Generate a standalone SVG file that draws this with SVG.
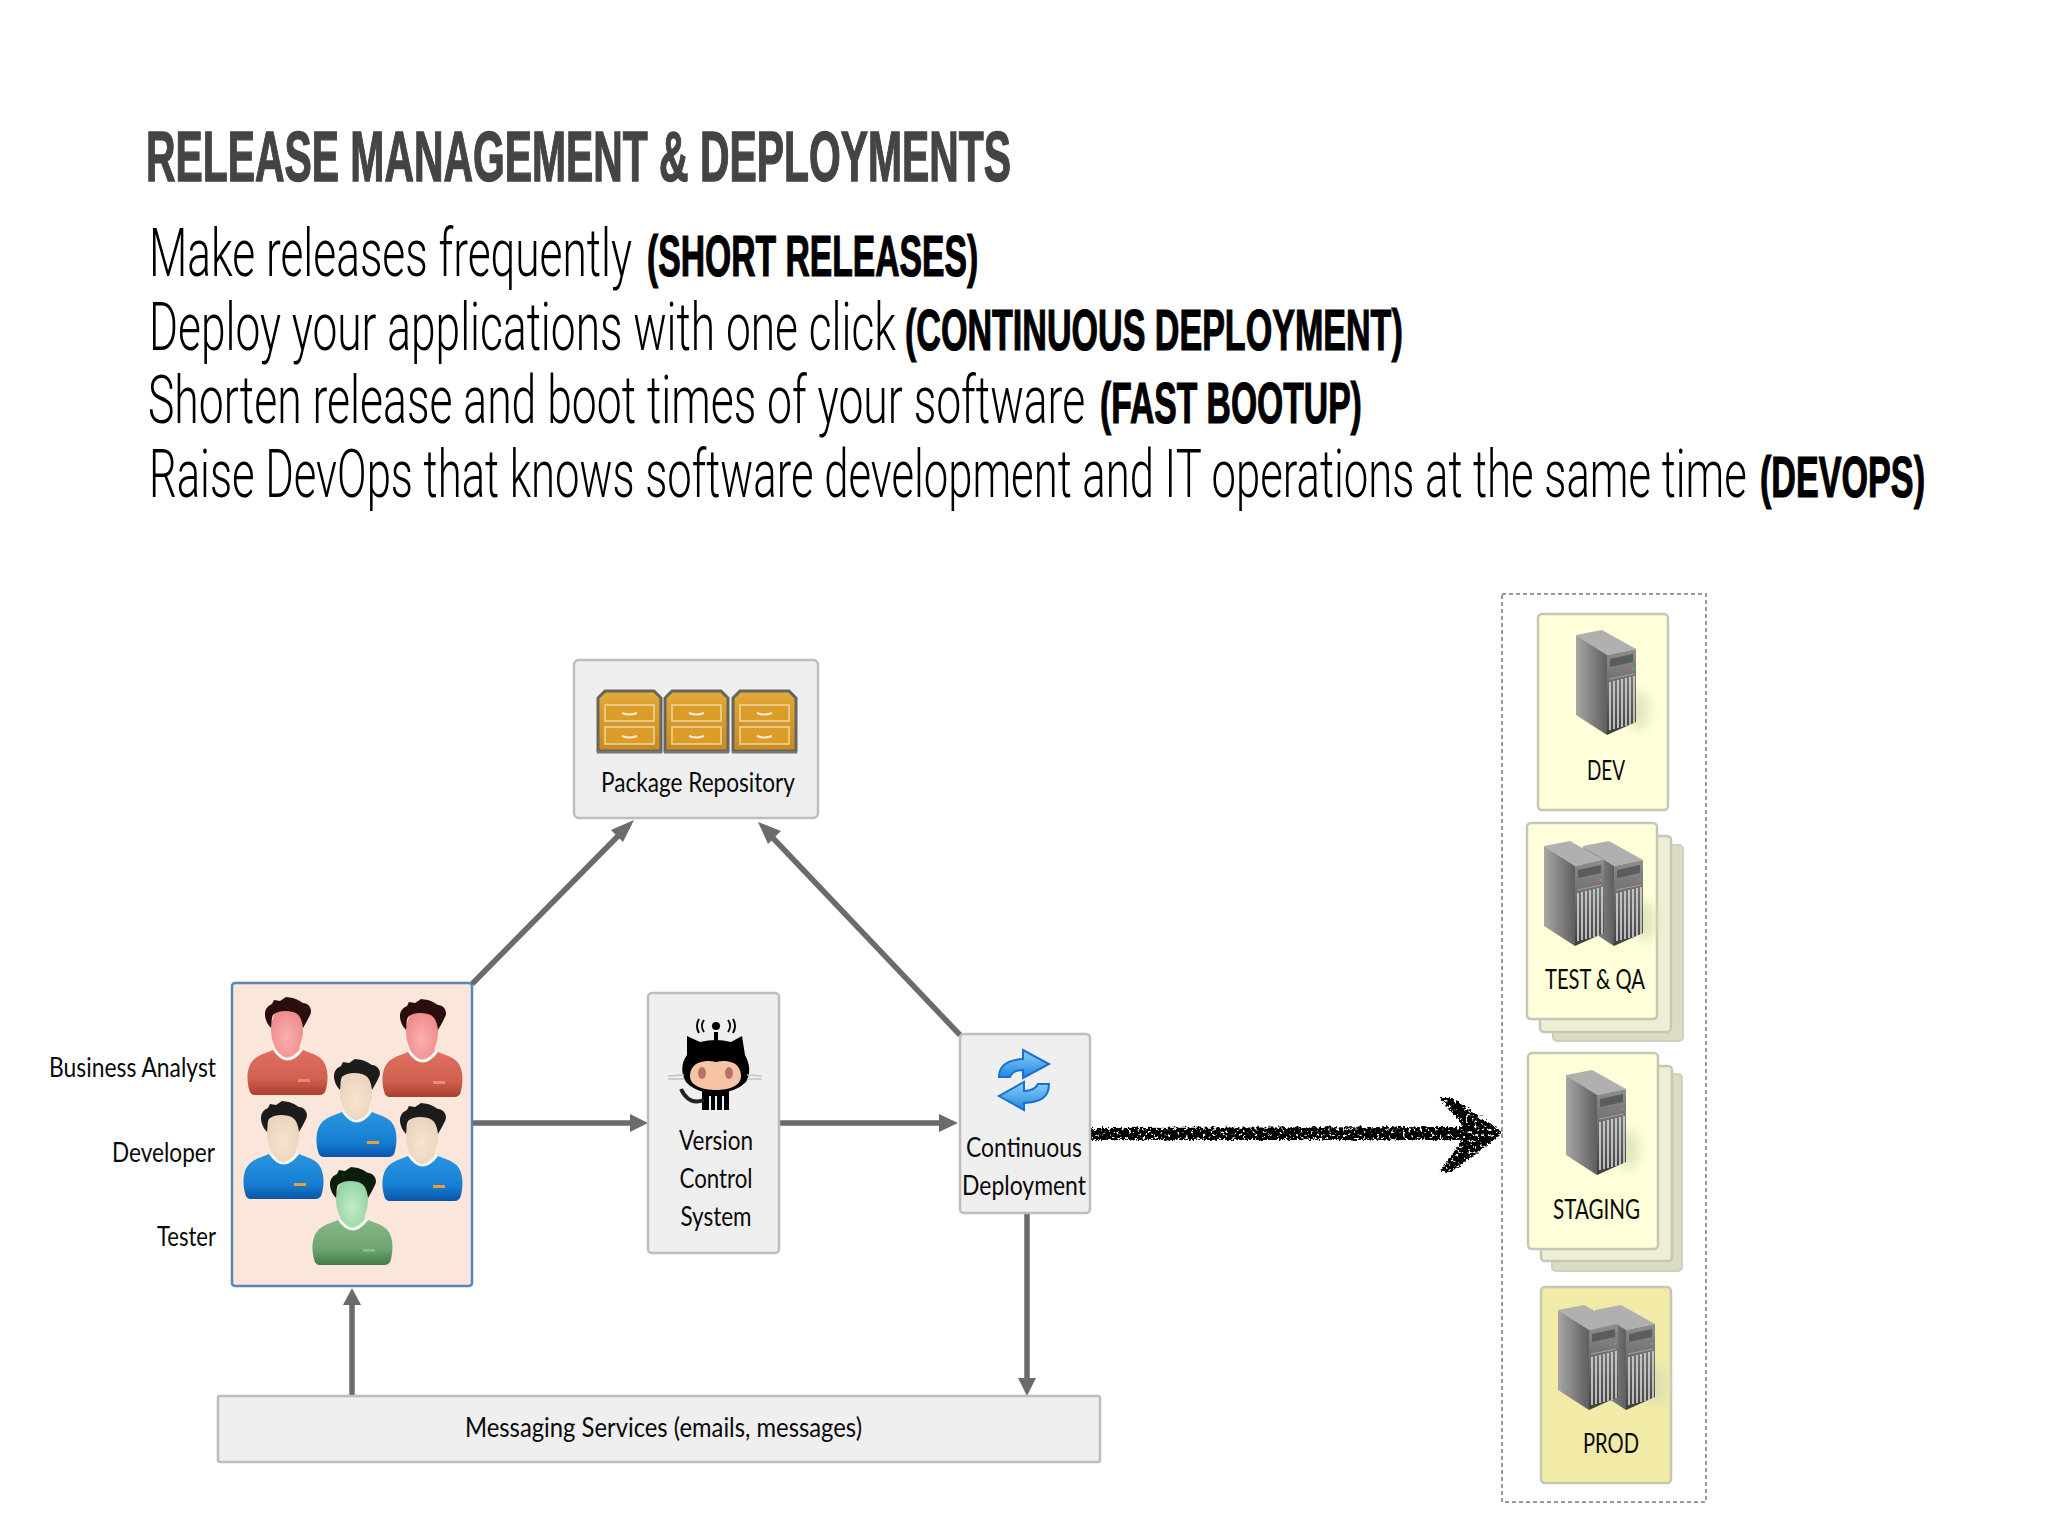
<svg xmlns="http://www.w3.org/2000/svg" width="2048" height="1536" viewBox="0 0 2048 1536">
<style>
text{font-family:"Lato","Noto Sans","Liberation Sans",sans-serif;fill:#0a0a0a;font-size:26px}
.title{font-family:"Liberation Sans",Arial,sans-serif;font-weight:700;font-size:70px;fill:#444;stroke:#444;stroke-width:1.4}
.thin{font-family:"Roboto","Liberation Sans",sans-serif;font-weight:300;font-size:67px;fill:#000}
.bold{font-family:"Liberation Sans",Arial,sans-serif;font-weight:700;font-size:57px;fill:#000;stroke:#000;stroke-width:1.2}
.box{fill:#efeff0;stroke:#bdbdbd;stroke-width:2.5}
.env{fill:#ffffd9;stroke:#c6c6b6;stroke-width:2.5}
.env2{fill:#eeeed4;stroke:#c6c6ba;stroke-width:2.5}
.env3{fill:#dcdcc0;stroke:#cfcfc0;stroke-width:2}
.conn{fill:none;stroke:#6b6b6b;stroke-width:5.5}
.hd{fill:#6b6b6b;stroke:none}
</style>
<defs>
<linearGradient id="gBlue" x1="0" y1="0" x2="0" y2="1"><stop offset="0" stop-color="#2a96e0"/><stop offset="0.65" stop-color="#1680d4"/><stop offset="1" stop-color="#0a55a8"/></linearGradient>
<linearGradient id="gRed" x1="0" y1="0" x2="0" y2="1"><stop offset="0" stop-color="#e0705f"/><stop offset="0.65" stop-color="#d0604f"/><stop offset="1" stop-color="#a8402f"/></linearGradient>
<linearGradient id="gGreen" x1="0" y1="0" x2="0" y2="1"><stop offset="0" stop-color="#85b985"/><stop offset="0.65" stop-color="#6ea573"/><stop offset="1" stop-color="#3f7d48"/></linearGradient>
<linearGradient id="gCab" x1="0" y1="0" x2="0" y2="1"><stop offset="0" stop-color="#e3a93a"/><stop offset="1" stop-color="#c98a1e"/></linearGradient>
<linearGradient id="gSide" x1="0" y1="0" x2="1" y2="0"><stop offset="0" stop-color="#a6a6a6"/><stop offset="1" stop-color="#5f5f5f"/></linearGradient>
<linearGradient id="gFront" x1="0" y1="0" x2="0" y2="1"><stop offset="0" stop-color="#8e8e8e"/><stop offset="1" stop-color="#3f3f3f"/></linearGradient>
<linearGradient id="gSync" x1="0" y1="0" x2="0" y2="1"><stop offset="0" stop-color="#8fd0fa"/><stop offset="1" stop-color="#1f86e0"/></linearGradient>
<radialGradient id="gSkin" cx="0.5" cy="0.65" r="0.6"><stop offset="0" stop-color="#f8e4cc"/><stop offset="1" stop-color="#e8d2bc"/></radialGradient>
<radialGradient id="gSkinR" cx="0.5" cy="0.65" r="0.6"><stop offset="0" stop-color="#fbb0b0"/><stop offset="1" stop-color="#ee8888"/></radialGradient>
<radialGradient id="gSkinG" cx="0.5" cy="0.65" r="0.6"><stop offset="0" stop-color="#c4eccb"/><stop offset="1" stop-color="#8fd0a0"/></radialGradient>
<filter id="soft" x="-10%" y="-10%" width="120%" height="120%"><feGaussianBlur stdDeviation="0.7"/></filter>
<filter id="blur6" x="-80%" y="-50%" width="260%" height="200%"><feGaussianBlur stdDeviation="6"/></filter>
<filter id="brush" x="-5%" y="-30%" width="110%" height="160%">
<feTurbulence type="fractalNoise" baseFrequency="0.35" numOctaves="2" seed="4" result="n"/>
<feDisplacementMap in="SourceGraphic" in2="n" scale="7" xChannelSelector="R" yChannelSelector="G" result="d"/>
<feColorMatrix in="n" type="matrix" values="0 0 0 0 0 0 0 0 0 0 0 0 0 0 0 0 9 0 0 -2.6" result="m"/>
<feComposite in="d" in2="m" operator="in"/>
</filter>
<path id="pBody" d="M2,92C-1,80 0,66 10,60C16,56 22,55 28,52Q40,66 54,52C60,55 66,56 72,60C81,66 82,80 79,92Q78,98 72,98L8,98Q3,98 2,92Z"/>
<path id="pNeck" d="M29,44L52,44L53,53Q40,68 28,53Z"/>
<ellipse id="pFace" cx="40" cy="33" rx="16" ry="25"/>
<path id="pCollar" d="M27,52Q40,72 55,52" fill="none" stroke="#f4f6f2" stroke-width="3"/>
<path id="pHair" d="M19,23C16,14 20,9 25,7L27,3L33,4L39,0L46,1L51,3L56,6C62,6 66,13 63,18L60,24L56,31C55,23 53,17 46,15C38,13 30,14 26,18C24,22 25,26 24,31C22,29 20,26 19,23Z"/>
<g id="personRed" filter="url(#soft)"><use href="#pBody" fill="url(#gRed)"/><use href="#pNeck" fill="#f09a94"/><use href="#pFace" fill="url(#gSkinR)"/><use href="#pCollar"/><use href="#pHair" fill="#2a0a0a"/><rect x="51" y="82" width="12" height="3" fill="#e98a70"/></g>
<g id="personBlue" filter="url(#soft)"><use href="#pBody" fill="url(#gBlue)"/><use href="#pNeck" fill="#edd7bd"/><use href="#pFace" fill="url(#gSkin)"/><use href="#pCollar"/><use href="#pHair" fill="#1d1d1d"/><rect x="51" y="82" width="12" height="3" fill="#e8a030"/></g>
<g id="personGreen" filter="url(#soft)"><use href="#pBody" fill="url(#gGreen)"/><use href="#pNeck" fill="#a8dcb0"/><use href="#pFace" fill="url(#gSkinG)"/><use href="#pCollar"/><use href="#pHair" fill="#0b1f0d"/><rect x="51" y="82" width="12" height="2.5" fill="#8fbf90"/></g>
<g id="cabinet">
<path d="M7,0L56,0L63,7L63,60L0,60L0,7Z" fill="url(#gCab)" stroke="#66665e" stroke-width="3"/>
<rect x="-1" y="60" width="65" height="2.5" fill="#777"/>
<g fill="#dc9c28" stroke="#ecd49a" stroke-width="1.6"><rect x="7" y="14" width="49" height="16"/><rect x="7" y="36" width="49" height="17"/></g>
<path d="M24,22Q31,25 39,22M24,45Q31,48 39,45" fill="none" stroke="#f2ead8" stroke-width="2.2"/>
</g>
<ellipse id="glow" cx="62" cy="80" rx="11" ry="20" fill="#d8ddb4" opacity="0.75" filter="url(#blur6)"/>
<g id="server">
<path d="M0,5L26,0L60,19L31,25Z" fill="#b0b0b0"/>
<path d="M0,5L31,25L31,105L0,85Z" fill="url(#gSide)"/>
<path d="M31,25L60,19L60,92L31,105Z" fill="url(#gFront)"/>
<path d="M34,29L57,24L57,32L34,37Z" fill="#5c5c5c"/>
<path d="M33,49L58,44" stroke="#a0a0a0" stroke-width="1" fill="none"/>
<circle cx="53" cy="40" r="1.3" fill="#d06060"/><circle cx="57" cy="39" r="1.3" fill="#40b090"/>
<path d="M34,52L34,100M38,51L38,99M42,50L42,98M46,49L46,97M50,48L50,96M54,47L54,95M58,46L58,93" stroke="#d8d8d8" stroke-width="1.6" fill="none"/>
</g>
</defs>
<rect width="2048" height="1536" fill="#fff"/>

<g id="heading">
<text class="title" transform="translate(146,181) scale(0.53,1)" textLength="1632" lengthAdjust="spacingAndGlyphs">RELEASE MANAGEMENT &amp; DEPLOYMENTS</text>
<text class="thin" transform="translate(149,276) scale(0.6,1)" textLength="805" lengthAdjust="spacingAndGlyphs">Make releases frequently</text>
<text class="bold" transform="translate(647,276) scale(0.55,1)" textLength="602" lengthAdjust="spacingAndGlyphs">(SHORT RELEASES)</text>
<text class="thin" transform="translate(149,350) scale(0.6,1)" textLength="1245" lengthAdjust="spacingAndGlyphs">Deploy your applications with one click</text>
<text class="bold" transform="translate(905,350) scale(0.55,1)" textLength="905" lengthAdjust="spacingAndGlyphs">(CONTINUOUS DEPLOYMENT)</text>
<text class="thin" transform="translate(148,423) scale(0.6,1)" textLength="1562" lengthAdjust="spacingAndGlyphs">Shorten release and boot times of your software</text>
<text class="bold" transform="translate(1100,423) scale(0.55,1)" textLength="476" lengthAdjust="spacingAndGlyphs">(FAST BOOTUP)</text>
<text class="thin" transform="translate(149,497) scale(0.6,1)" textLength="2663" lengthAdjust="spacingAndGlyphs">Raise DevOps that knows software development and IT operations at the same time</text>
<text class="bold" transform="translate(1760,497) scale(0.55,1)" textLength="300" lengthAdjust="spacingAndGlyphs">(DEVOPS)</text>
</g>

<g id="connectors">
<path class="conn" d="M472,984L620,834"/><path class="hd" d="M634,820L623,842L611,830Z"/>
<path class="conn" d="M960,1035L772,837"/><path class="hd" d="M758,822L781,831L768,844Z"/>
<path class="conn" d="M473,1123L632,1123"/><path class="hd" d="M648,1123L630,1114L630,1132Z"/>
<path class="conn" d="M779,1123L942,1123"/><path class="hd" d="M958,1123L939,1114L939,1132Z"/>
<path class="conn" d="M1027,1214L1027,1382"/><path class="hd" d="M1027,1396L1018,1378L1036,1378Z"/>
<path class="conn" d="M352,1396L352,1302"/><path class="hd" d="M352,1288L343,1305L361,1305Z"/>
<path filter="url(#brush)" fill="#000" d="M1088,1128L1464,1127L1440,1098L1452,1098L1503,1133L1452,1172L1440,1172L1462,1140L1088,1140Z"/>
</g>

<g id="node-team">
<rect x="232" y="983" width="240" height="303" rx="3" fill="#fbe6dc" stroke="#5b84b8" stroke-width="2.5"/>
<use href="#personRed" x="247" y="997"/>
<use href="#personRed" x="382" y="999"/>
<use href="#personBlue" x="316" y="1059"/>
<use href="#personBlue" x="243" y="1101"/>
<use href="#personBlue" x="382" y="1103"/>
<use href="#personGreen" x="312" y="1167"/>
<text x="49" y="1077" textLength="167" lengthAdjust="spacingAndGlyphs">Business Analyst</text>
<text x="112" y="1162" textLength="103" lengthAdjust="spacingAndGlyphs">Developer</text>
<text x="157" y="1246" textLength="59" lengthAdjust="spacingAndGlyphs">Tester</text>
</g>

<g id="node-package-repository">
<rect class="box" x="574" y="660" width="244" height="158" rx="5"/>
<use href="#cabinet" x="598" y="691"/>
<use href="#cabinet" x="665" y="691"/>
<use href="#cabinet" x="733" y="691"/>
<text x="601" y="792" textLength="194" lengthAdjust="spacingAndGlyphs">Package Repository</text>
</g>

<g id="node-version-control">
<rect class="box" x="648" y="993" width="131" height="260" rx="4"/>
<g id="octocat">
<path d="M704,1020A10,10 0 0 0 704,1032M699,1019A14,14 0 0 0 699,1033M728,1020A10,10 0 0 1 728,1032M733,1019A14,14 0 0 1 733,1033" fill="none" stroke="#000" stroke-width="2"/>
<circle cx="716" cy="1026" r="4" fill="#000"/>
<rect x="714" y="1032" width="4" height="9" fill="#000"/>
<path d="M687,1036L700,1042Q716,1038 731,1042L742,1036L745,1055Q753,1070 746,1082Q735,1093 716,1093Q696,1093 686,1082Q678,1068 687,1055Z" fill="#000"/>
<path d="M690,1076C690,1063 703,1059 716,1062C729,1059 741,1063 741,1076C741,1086 729,1090 716,1090C703,1090 690,1086 690,1076Z" fill="#f4c4a4"/>
<ellipse cx="702" cy="1073" rx="4" ry="6" fill="#b8706a"/><ellipse cx="729" cy="1073" rx="4" ry="6" fill="#b8706a"/>
<path d="M668,1076L684,1075M668,1079L684,1079M747,1075L762,1076M747,1079L762,1079" stroke="#c4c4c4" stroke-width="1.5"/>
<path d="M702,1090L729,1090L729,1110L702,1110Z" fill="#000"/>
<path d="M710,1096V1110M716,1096V1110M723,1096V1110" stroke="#efeff0" stroke-width="2"/>
<path d="M681,1089C686,1100 694,1104 704,1100" fill="none" stroke="#222" stroke-width="4"/>
</g>
<text x="716" y="1150" text-anchor="middle" textLength="74" lengthAdjust="spacingAndGlyphs">Version</text>
<text x="716" y="1188" text-anchor="middle" textLength="73" lengthAdjust="spacingAndGlyphs">Control</text>
<text x="716" y="1226" text-anchor="middle" textLength="71" lengthAdjust="spacingAndGlyphs">System</text>
</g>

<g id="node-continuous-deployment">
<rect class="box" x="960" y="1034" width="130" height="179" rx="4"/>
<path d="M999,1077C999,1066 1008,1060 1023,1059L1023,1050L1049,1064L1023,1078L1023,1070C1016,1070 1012,1072 1010,1077Z" fill="url(#gSync)" stroke="#1a70d0" stroke-width="2"/>
<path d="M1049,1084C1049,1098 1040,1102 1024,1103L1024,1110L999,1096L1024,1082L1024,1091C1032,1091 1036,1088 1038,1084Z" fill="url(#gSync)" stroke="#1a70d0" stroke-width="2"/>
<text x="966" y="1157" textLength="116" lengthAdjust="spacingAndGlyphs">Continuous</text>
<text x="962" y="1195" textLength="124" lengthAdjust="spacingAndGlyphs">Deployment</text>
</g>

<g id="node-messaging">
<rect class="box" x="218" y="1396" width="882" height="66" rx="2"/>
<text x="465" y="1437" textLength="397" lengthAdjust="spacingAndGlyphs">Messaging Services (emails, messages)</text>
</g>

<g id="node-environments">
<rect x="1502" y="594" width="204" height="908" fill="none" stroke="#9a9a9a" stroke-width="2" stroke-dasharray="4 3"/>
</g>

<g id="node-dev">
<rect class="env" x="1538" y="614" width="130" height="196" rx="4"/>
<use href="#glow" x="1576" y="630"/>
<use href="#server" x="1576" y="630"/>
<text x="1606" y="780" text-anchor="middle" textLength="38" lengthAdjust="spacingAndGlyphs">DEV</text>
</g>

<g id="node-test-qa">
<rect class="env3" x="1553" y="845" width="130" height="196" rx="4"/>
<rect class="env2" x="1540" y="836" width="131" height="196" rx="4"/>
<rect class="env" x="1527" y="823" width="130" height="196" rx="4"/>
<use href="#glow" x="1583" y="841"/>
<use href="#server" x="1583" y="841"/>
<use href="#server" x="1544" y="841"/>
<text x="1545" y="989" textLength="100" lengthAdjust="spacingAndGlyphs">TEST &amp; QA</text>
</g>

<g id="node-staging">
<rect class="env3" x="1552" y="1074" width="130" height="197" rx="4"/>
<rect class="env2" x="1541" y="1066" width="131" height="195" rx="4"/>
<rect class="env" x="1528" y="1053" width="130" height="196" rx="4"/>
<use href="#glow" x="1566" y="1070"/>
<use href="#server" x="1566" y="1070"/>
<text x="1553" y="1219" textLength="87" lengthAdjust="spacingAndGlyphs">STAGING</text>
</g>

<g id="node-prod">
<rect class="env" style="fill:#f2eba8" x="1541" y="1287" width="130" height="196" rx="4"/>
<use href="#glow" x="1595" y="1305"/>
<use href="#server" x="1595" y="1305"/>
<use href="#server" x="1558" y="1305"/>
<text x="1583" y="1453" textLength="56" lengthAdjust="spacingAndGlyphs">PROD</text>
</g>
</svg>
